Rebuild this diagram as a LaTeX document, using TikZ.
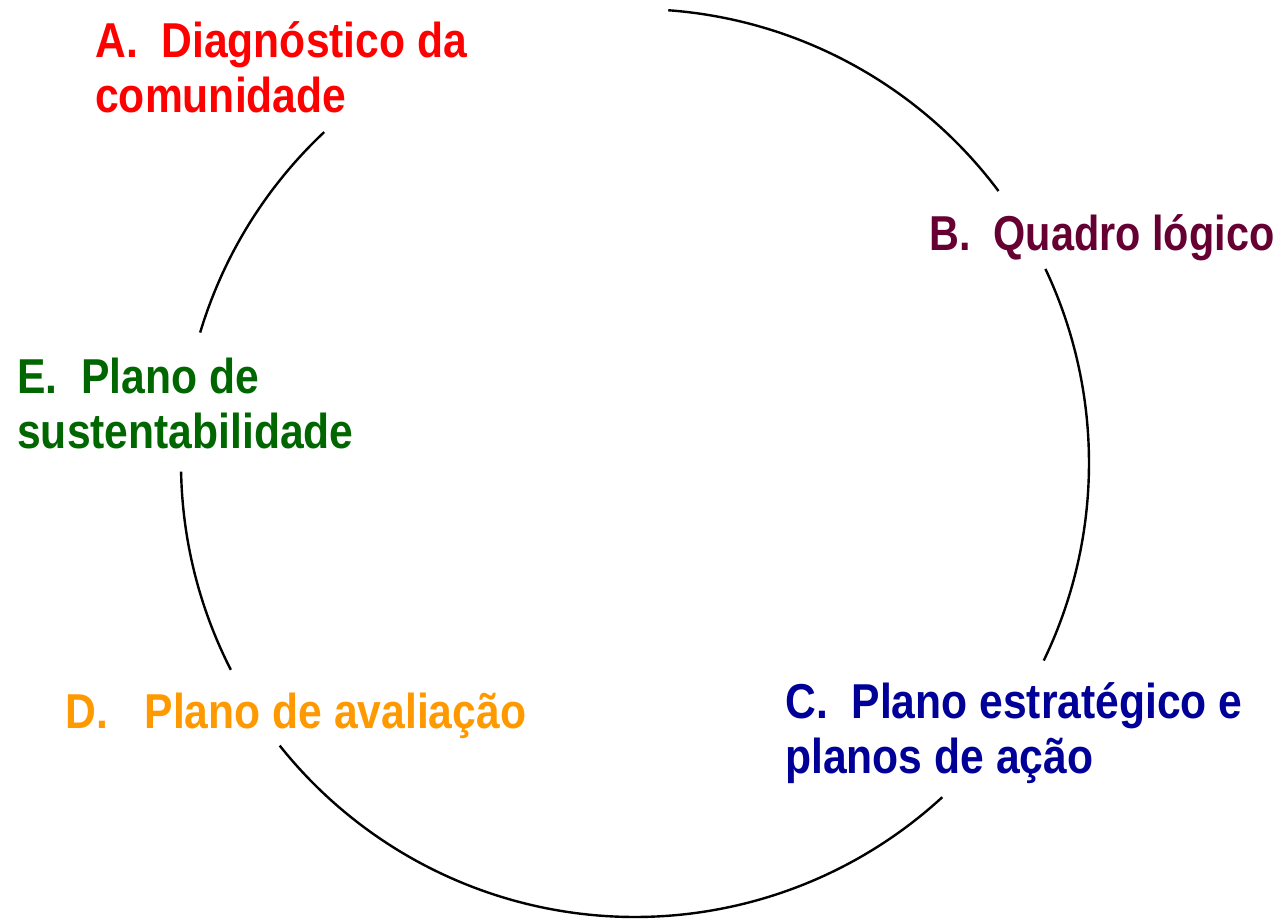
\documentclass[tikz,border=0pt]{standalone}
\usepackage{fontspec}
\setmainfont{Liberation Sans}[FakeStretch=0.87]
\newfontfamily\narrowfont{Liberation Sans}[FakeStretch=0.845]
\definecolor{cA}{HTML}{FF0000}
\definecolor{cB}{HTML}{660033}
\definecolor{cC}{HTML}{000099}
\definecolor{cD}{HTML}{FF9900}
\definecolor{cE}{HTML}{006600}
\begin{document}
\begin{tikzpicture}[x=0.75pt,y=-0.75pt,
  lbl/.style={anchor=base west,inner sep=0pt,align=left,
    font=\bfseries\fontsize{36.75}{41.25}\selectfont},
  ring/.style={line width=1.8pt,black}]
\useasboundingbox (0,0) rectangle (1281,918);
\coordinate (c) at (635,463);
\draw[ring] ([shift={(-85.8:454)}]c) arc[start angle=-85.8,end angle=-36.8,radius=454];
\draw[ring] ([shift={(-25.3:454)}]c) arc[start angle=-25.3,end angle=25.8,radius=454];
\draw[ring] ([shift={(47.4:454)}]c) arc[start angle=47.4,end angle=141.5,radius=454];
\draw[ring] ([shift={(152.9:454)}]c) arc[start angle=152.9,end angle=178.9,radius=454];
\draw[ring] ([shift={(196.7:454)}]c) arc[start angle=196.7,end angle=226.8,radius=454];
\node[lbl,text=cA] (A) at (95,112) {A.\ \ Diagnóstico da\\comunidade};
\node[lbl,text=cB,font=\narrowfont\bfseries\fontsize{36.75}{41.25}\selectfont] (B) at (929,250) {B.\ \ Quadro lógico};
\node[lbl,text=cC] (C) at (785,773) {C.\ \ Plano estratégico e\\planos de ação};
\node[lbl,text=cD] (D) at (65,728) {D.\hspace{0.75em}Plano de avaliação};
\node[lbl,text=cE] (E) at (17,448) {E.\ \ Plano de\\sustentabilidade};
\end{tikzpicture}
\end{document}
